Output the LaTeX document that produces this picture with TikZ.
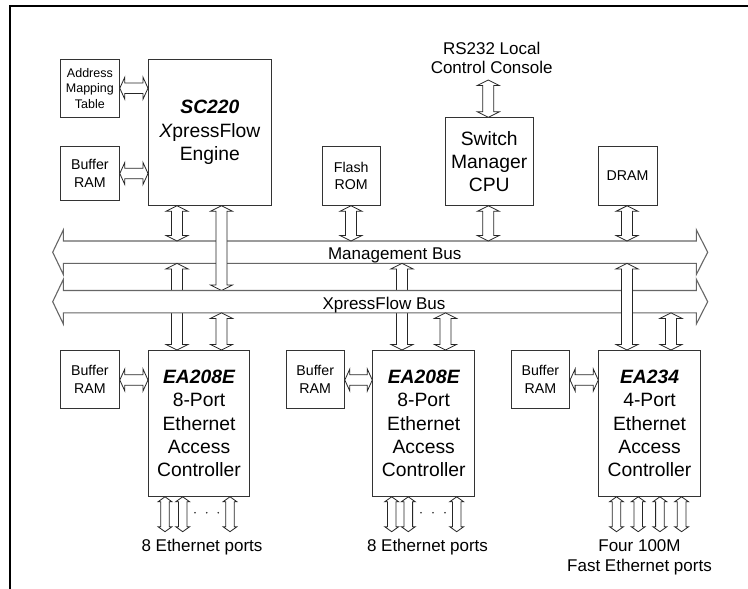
\documentclass[tikz,border=0pt]{standalone}
\usepackage{fontspec}
\setmainfont{Liberation Sans}
\usetikzlibrary{calc}
% vertical double block arrow: #1 top point, #2 bottom point, #3 shaft half, #4 head half, #5 head length
\newcommand\vdar[5]{\draw[blk] let \p1=#1, \p2=#2 in
  (\x1,\y1) -- (\x1+#4,\y1-#5) -- (\x1+#3,\y1-#5) -- (\x1+#3,\y2+#5) -- (\x1+#4,\y2+#5) -- (\x1,\y2)
  -- (\x1-#4,\y2+#5) -- (\x1-#3,\y2+#5) -- (\x1-#3,\y1-#5) -- (\x1-#4,\y1-#5) -- cycle;}
% horizontal double block arrow: #1 left point, #2 right point
\newcommand\hdar[5]{\draw[blk] let \p1=#1, \p2=#2 in
  (\x1,\y1) -- (\x1+#5,\y1+#4) -- (\x1+#5,\y1+#3) -- (\x2-#5,\y1+#3) -- (\x2-#5,\y1+#4) -- (\x2,\y1)
  -- (\x2-#5,\y1-#4) -- (\x2-#5,\y1-#3) -- (\x1+#5,\y1-#3) -- (\x1+#5,\y1-#4) -- cycle;}
\newcommand\conn[2]{\vdar{#1}{#2}{5.5pt}{11pt}{5.5pt}}
\newcommand\side[2]{\hdar{#1}{#2}{5.3pt}{11pt}{5pt}}
\newcommand\port[2]{\vdar{#1}{#2}{4.3pt}{7pt}{5pt}}
% bus outline around a shaft node #1
\newcommand\bus[1]{\draw[busline] (#1.north west) -- (#1.north east) -- ++(0,-11) -- ($(#1.east)+(11.3,0)$)
  -- ($(#1.south east)+(0,11)$) -- (#1.south east) -- (#1.south west) -- ++(0,11)
  -- ($(#1.west)+(-10.6,0)$) -- ($(#1.north west)+(0,-11)$) -- cycle;}
\begin{document}
\begin{tikzpicture}[x=1pt,y=-1pt,
  box/.style={draw=black!80, line width=0.8pt, fill=white, inner sep=0pt, align=center, anchor=north west},
  big/.style={font=\fontsize{19.3}{23.4}\selectfont},
  small/.style={font=\fontsize{14.2}{17.6}\selectfont},
  tiny/.style={font=\fontsize{12.5}{15.3}\selectfont},
  lbl/.style={inner sep=0pt, align=center, font=\fontsize{17}{19.5}\selectfont},
  blk/.style={draw=black!85, line width=0.8pt, fill=white, line join=miter},
  busline/.style={draw=black!60, line width=1.1pt, fill=white, line join=miter},
  shaft/.style={inner sep=0pt, anchor=north west, minimum width=632.7pt, minimum height=22pt},
  dot/.style={fill=black!85, draw=none}
]
\useasboundingbox (0,0) rectangle (748,589);
% frame
\draw[line width=2.3pt, line join=miter] (10,589) -- (10,6) -- (748,6);

% columns and rows
\coordinate (c1) at (177,0);
\coordinate (c2) at (221.5,0);
\coordinate (c3) at (351,0);
\coordinate (c4) at (402,0);
\coordinate (c5) at (445.5,0);
\coordinate (c6) at (488.3,0);
\coordinate (c7) at (627,0);
\coordinate (c8) at (671,0);
\coordinate (r1) at (0,88.2);
\coordinate (r2) at (0,173.5);
\coordinate (r3) at (0,380);

% top row
\node[box,tiny,minimum width=59pt,minimum height=58pt] (amt) at (60,59) {Address\\Mapping\\Table};
\node[box,big,minimum width=123pt,minimum height=146pt] (sc) at (148,59) {{\bfseries\itshape SC220}\\{\itshape X}pressFlow\\Engine};
\node[box,small,minimum width=59pt,minimum height=54pt] (br0) at (60,146) {Buffer\\RAM};
\node[box,small,minimum width=58.3pt,minimum height=59.3pt] (flash) at (321.7,145.7) {Flash\\ROM};
\node[box,big,minimum width=87.7pt,minimum height=87.7pt] (cpu) at (445,117.3) {Switch\\Manager\\CPU};
\node[box,small,minimum width=59pt,minimum height=59.3pt] (dram) at (597.7,145.7) {DRAM};
\node[lbl,anchor=north] (rs) at (491.7,41.8) {RS232 Local\\Control Console};
\coordinate (rsb) at (488.3,80);

% bottom row
\node[box,small,minimum width=59pt,minimum height=58.3pt] (br1) at (60,350) {Buffer\\RAM};
\node[box,big,minimum width=101.3pt,minimum height=146pt] (ea1) at (148,350) {{\bfseries\itshape EA208E}\\8-Port\\Ethernet\\Access\\Controller};
\node[box,small,minimum width=58.3pt,minimum height=58.3pt] (br2) at (285.7,350) {Buffer\\RAM};
\node[box,big,minimum width=102pt,minimum height=146pt] (ea2) at (372.3,350) {{\bfseries\itshape EA208E}\\8-Port\\Ethernet\\Access\\Controller};
\node[box,small,minimum width=58.6pt,minimum height=58.3pt] (br3) at (510.7,350) {Buffer\\RAM};
\node[box,big,minimum width=101.7pt,minimum height=146pt] (ea3) at (598.3,350) {{\bfseries\itshape EA234}\\4-Port\\Ethernet\\Access\\Controller};

% side arrows
\side{(amt.east |- r1)}{(sc.west |- r1)}
\side{(br0.east |- r2)}{(sc.west |- r2)}
\side{(br1.east |- r3)}{(ea1.west |- r3)}
\side{(br2.east |- r3)}{(ea2.west |- r3)}
\side{(br3.east |- r3)}{(ea3.west |- r3)}

% management bus
\node[shaft] (mb) at (63.3,241) {};
\bus{mb}

% xpressflow bus (shaft node)
\node[shaft] (xb) at (63.3,290.5) {};

% connectors into management bus
\conn{(sc.south -| c1)}{(mb.north -| c1)}
\conn{(flash.south -| c3)}{(mb.north -| c3)}
\conn{(cpu.south -| c6)}{(mb.north -| c6)}
\conn{(dram.south -| c7)}{(mb.north -| c7)}
\conn{(rsb)}{(cpu.north -| rsb)}
% SC220 to XpressFlow bus, over the management bus
\conn{(sc.south -| c2)}{(xb.north -| c2)}
% management bus to controllers, behind XpressFlow bus
\conn{(mb.south -| c1)}{(ea1.north -| c1)}
\conn{(mb.south -| c4)}{(ea2.north -| c4)}

\bus{xb}

% management bus to EA234, over the XpressFlow bus
\conn{(mb.south -| c7)}{(ea3.north -| c7)}
% XpressFlow bus to controllers
\conn{(xb.south -| c2)}{(ea1.north -| c2)}
\conn{(xb.south -| c5)}{(ea2.north -| c5)}
\conn{(xb.south -| c8)}{(ea3.north -| c8)}

\node[lbl,anchor=base] (mbl) at (394.7,259) {Management Bus};
\node[lbl,anchor=base] (xbl) at (384,309) {XpressFlow Bus};

% ports
\coordinate (p1) at (165,531.7);
\coordinate (p2) at (182.7,531.7);
\coordinate (p3) at (230,531.7);
\coordinate (p4) at (391.7,531.7);
\coordinate (p5) at (408.3,531.7);
\coordinate (p6) at (456.7,531.7);
\coordinate (p7) at (616.5,531.7);
\coordinate (p8) at (638.2,531.7);
\coordinate (p9) at (659.9,531.7);
\coordinate (p10) at (681.6,531.7);
\foreach \q/\e in {p1/ea1,p2/ea1,p3/ea1,p4/ea2,p5/ea2,p6/ea2,p7/ea3,p8/ea3,p9/ea3,p10/ea3}{
  \port{(\e.south -| \q)}{(\q)}
}
\foreach \xx in {195,206.7,218.3,421,433,445}{
  \fill[dot] (\xx,512.7) circle (0.9pt);
}
\node[lbl,anchor=base] (pl1) at (202,551.7) {8 Ethernet ports};
\node[lbl,anchor=base] (pl2) at (427.5,551.7) {8 Ethernet ports};
\node[lbl,anchor=north] (pl3) at (639.5,539.6) {Four 100M\\Fast Ethernet ports};
\end{tikzpicture}
\end{document}
